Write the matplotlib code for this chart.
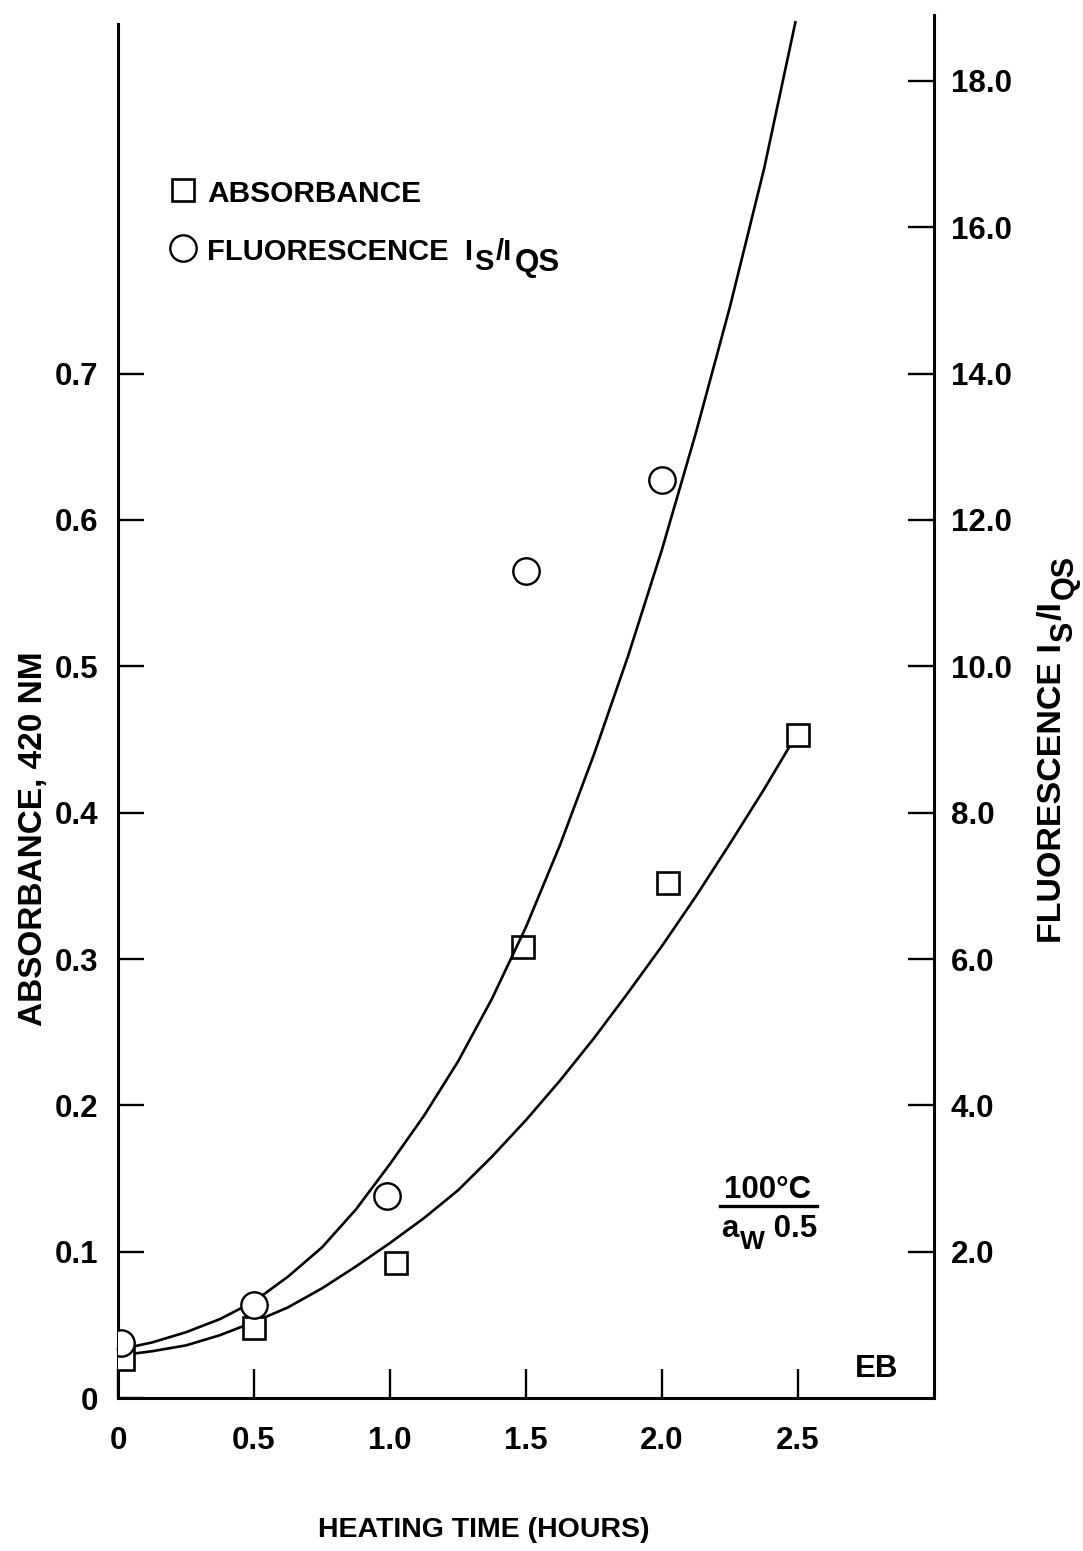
import matplotlib
matplotlib.use("Agg")
import matplotlib.pyplot as plt
from matplotlib.lines import Line2D

plt.rcParams['font.family'] = ['Liberation Sans', 'DejaVu Sans']
plt.rcParams['font.weight'] = 'bold'

# ---- data ----
time_abs = [0.02, 0.5, 1.02, 1.49, 2.02, 2.5]
absorbance = [0.027, 0.048, 0.092, 0.308, 0.352, 0.453]

time_flu = [0.01, 0.5, 0.99, 1.5, 2.0]
fluorescence = [0.75, 1.27, 2.76, 11.3, 12.54]

abs_curve_t = [0.0, 0.125, 0.25, 0.375, 0.5, 0.625, 0.75, 0.875, 1.0, 1.125, 1.25,
               1.375, 1.5, 1.625, 1.75, 1.875, 2.0, 2.125, 2.25, 2.375, 2.5]
abs_curve = [0.029, 0.032, 0.036, 0.043, 0.052, 0.062, 0.075, 0.090, 0.106, 0.123, 0.142,
             0.165, 0.190, 0.217, 0.246, 0.277, 0.309, 0.343, 0.379, 0.416, 0.455]

flu_curve_t = [0.0, 0.125, 0.25, 0.375, 0.5, 0.625, 0.75, 0.875, 1.0, 1.125, 1.25,
               1.375, 1.5, 1.625, 1.75, 1.875, 2.0, 2.125, 2.25, 2.375, 2.49]
flu_curve = [0.66, 0.76, 0.90, 1.08, 1.32, 1.66, 2.06, 2.58, 3.20, 3.86, 4.60,
             5.46, 6.44, 7.56, 8.80, 10.14, 11.60, 13.20, 14.92, 16.80, 18.80]

x_ticks = [0, 0.5, 1.0, 1.5, 2.0, 2.5]
x_labels = ['0', '0.5', '1.0', '1.5', '2.0', '2.5']
left_ticks = [0, 0.1, 0.2, 0.3, 0.4, 0.5, 0.6, 0.7]
left_labels = ['0', '0.1', '0.2', '0.3', '0.4', '0.5', '0.6', '0.7']
right_ticks = [2, 4, 6, 8, 10, 12, 14, 16, 18]
right_labels = ['2.0', '4.0', '6.0', '8.0', '10.0', '12.0', '14.0', '16.0', '18.0']

FS = 22.5
LW = 1.9

fig = plt.figure(figsize=(10.83, 15.51), dpi=100)
ax = fig.add_axes([0.109, 0.0986, 0.7535, 0.8917])
ax2 = ax.twinx()

ax.set_xlim(0, 3.0)
ax.set_ylim(0, 0.945)
ax2.set_ylim(0, 18.9)

# absorbance
ax.plot(abs_curve_t, abs_curve, color='black', lw=LW, zorder=2)
ax.plot(time_abs, absorbance, linestyle='none', marker='s', ms=16, mfc='white',
        mec='black', mew=1.9, zorder=3)
# fluorescence
ax2.plot(flu_curve_t, flu_curve, color='black', lw=LW, zorder=2, clip_on=False)
ax2.plot(time_flu, fluorescence, linestyle='none', marker='o', ms=19, mfc='white',
         mec='black', mew=1.7, zorder=3)

# spines
for a in (ax, ax2):
    a.spines['top'].set_visible(False)
ax.spines['right'].set_visible(False)
ax2.spines['left'].set_visible(False)
ax2.spines['bottom'].set_visible(False)
for s in ('left', 'bottom'):
    ax.spines[s].set_linewidth(2.2)
ax2.spines['right'].set_linewidth(2.2)
ax.spines['left'].set_bounds(0, 0.939)

ax.set_xticks(x_ticks)
ax.set_xticklabels(x_labels)
ax.set_yticks(left_ticks)
ax.set_yticklabels(left_labels)
ax2.set_yticks(right_ticks)
ax2.set_yticklabels(right_labels)

ax.tick_params(axis='x', direction='in', length=21, width=1.7, labelsize=FS, pad=20)
ax.tick_params(axis='y', direction='in', length=19, width=1.7, labelsize=FS, pad=14)
ax2.tick_params(axis='y', direction='in', length=19, width=1.7, labelsize=FS, pad=12)
for lab in ax.get_xticklabels() + ax.get_yticklabels() + ax2.get_yticklabels():
    lab.set_fontweight('bold')


def chain(prev, s, dx, dy, size, rot=0):
    """Place text s right after prev (baseline-relative offset in points)."""
    if rot == 0:
        return ax.annotate(s, xy=(1, 0), xycoords=prev, xytext=(dx, dy),
                           textcoords='offset points', ha='left', va='bottom',
                           fontsize=size, fontweight='bold', annotation_clip=False)
    return ax.annotate(s, xy=(1, 1), xycoords=prev, xytext=(-dy, dx),
                       textcoords='offset points', ha='right', va='bottom',
                       rotation=90, fontsize=size, fontweight='bold',
                       annotation_clip=False)


# axis labels
fig.text(0.4465, 0.0135, 'HEATING TIME (HOURS)', fontsize=20.5, fontweight='bold',
         ha='center', va='center')
fig.text(0.031, 0.459, 'ABSORBANCE, 420 NM', fontsize=24, fontweight='bold',
         rotation=90, ha='center', va='center')
r1 = fig.text(0.986, 1 - 943 / 1551, 'FLUORESCENCE I', fontsize=24.5, fontweight='bold',
              rotation=90, ha='right', va='bottom')
r2 = chain(r1, 'S', 1, -8, 22, rot=90)
r3 = chain(r2, '/I', 1, 8, 24.5, rot=90)
r4 = chain(r3, 'QS', 1.5, -8.5, 22, rot=90)

# legend (manual)
ax.plot([0.0797], [0.8735], transform=ax.transAxes, marker='s', ms=16, mfc='white',
        mec='black', mew=1.9, linestyle='none', clip_on=False)
ax.plot([0.0797], [0.8315], transform=ax.transAxes, marker='o', ms=19, mfc='white',
        mec='black', mew=1.7, linestyle='none', clip_on=False)
ax.text(0.109, 0.8648, 'ABSORBANCE', transform=ax.transAxes, fontsize=21.5,
        fontweight='bold', ha='left', va='baseline')
l1 = ax.text(0.109, 0.8228, 'FLUORESCENCE  I', transform=ax.transAxes,
             fontsize=21, fontweight='bold', ha='left', va='baseline')
l2 = chain(l1, 'S', 1, -7, 21)
l3 = chain(l2, '/I', 1.5, 7, 21)
l4 = chain(l3, 'QS', 2, -8.5, 22.5)

# condition annotation
fig.text(0.709, 0.2276, '100°C', fontsize=FS, fontweight='bold', ha='center', va='baseline')
fig.add_artist(Line2D([720 / 1083, 817 / 1083], [1 - 1206 / 1551, 1 - 1206 / 1551],
                      color='black', lw=2.4))
a1 = fig.text(721 / 1083, 0.2025, 'a', fontsize=FS, fontweight='bold',
              ha='left', va='baseline')
a2 = chain(a1, 'W', 1, -7, 19)
a3 = chain(a2, ' 0.5', 0, 7, FS)
fig.text(0.809, 0.1122, 'EB', fontsize=FS, fontweight='bold', ha='center', va='baseline')

fig.savefig('out.png', dpi=100, facecolor='white')
